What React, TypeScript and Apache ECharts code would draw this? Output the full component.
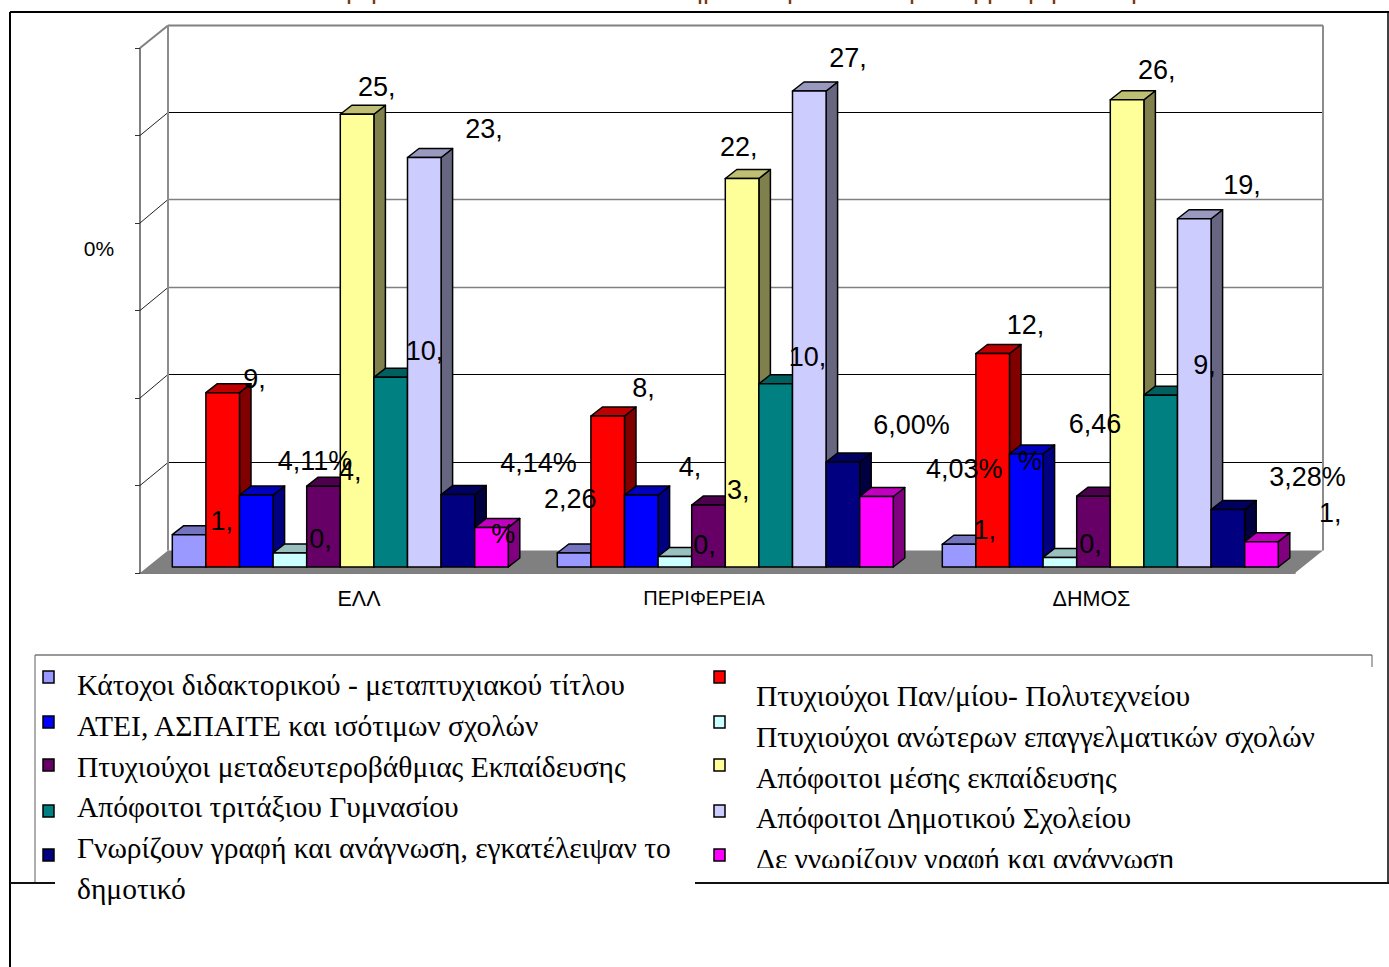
import React, { useEffect, useRef } from "react";
import * as echarts from "echarts";

const categories = ["ΕΛΛ", "ΠΕΡΙΦΕΡΕΙΑ", "ΔΗΜΟΣ"];
const yTicks = [0, 5, 10, 15, 20, 25, 30];

const seriesNames = [
  "Κάτοχοι διδακτορικού - μεταπτυχιακού τίτλου",
  "Πτυχιούχοι Παν/μίου- Πολυτεχνείου",
  "ΑΤΕΙ, ΑΣΠΑΙΤΕ και ισότιμων σχολών",
  "Πτυχιούχοι ανώτερων επαγγελματικών σχολών",
  "Πτυχιούχοι μεταδευτεροβάθμιας Εκπαίδευσης",
  "Απόφοιτοι μέσης εκπαίδευσης",
  "Απόφοιτοι τριτάξιου Γυμνασίου",
  "Απόφοιτοι Δημοτικού Σχολείου",
  "Γνωρίζουν γραφή και ανάγνωση, εγκατέλειψαν το",
  "Δε γνωρίζουν γραφή και ανάγνωση",
];

const kat = [1.85, 0.8, 1.3];
const pan = [9.96, 8.63, 12.2];
const atei = [4.11, 4.11, 6.46];
const anot = [0.8, 0.6, 0.55];
const metad = [4.62, 3.54, 4.05];
const mesi = [25.87, 22.2, 26.7];
const trit = [10.84, 10.47, 9.82];
const dimot = [23.4, 27.2, 19.9];
const graf = [4.14, 6.0, 3.28];
const agraf = [2.26, 4.03, 1.45];
const seriesValues = [kat, pan, atei, anot, metad, mesi, trit, dimot, graf, agraf];

const labelsEll = ["1,", "9,", "4,11%", "0,", "4,", "25,", "10,", "23,", "4,14%", "2,26"];
const labelsPer = ["", "8,", "4,", "0,", "3,", "22,", "10,", "27,", "6,00%", "4,03%"];
const labelsDim = ["1,", "12,", "6,46", "0,", "", "26,", "9,", "19,", "3,28%", "1,"];
const labelTexts = [labelsEll, labelsPer, labelsDim];

// ---- layout and style, kept apart from the values ----
const colors = ["#9999FF", "#FF0000", "#0000FF", "#CCFFFF", "#660066", "#FFFF99", "#008080", "#CCCCFF", "#000080", "#FF00FF"];
const labelOffsets = [
  [[32, -14], [31, -14], [58, -34], [30, -14], [26, -15], [19, -27], [33, -26], [59, -29], [80, -32], [78, -28]],
  [[0, 0], [35, -28], [48, -28], [29, -12], [29, -15], [-4, -32], [31, -27], [38, -33], [68, -37], [87, -27]],
  [[25, -14], [32, -29], [68, -30], [30, -13], [0, 0], [29, -30], [43, -30], [47, -34], [79, -33], [68, -29]],
];
const extraLabels = [
  { cat: 0, s: 9, text: "%", dx: 11, dy: 7 },
  { cat: 2, s: 2, text: "%", dx: 3, dy: 7 },
];
const gridLineColors = ["#808080", "#000000", "#000000", "#808080", "#808080", "#000000", "#808080"];
const BAR_RATIO = 33.6 / 385;
const BAR_SHIFT = -0.7;
const DEPTH_X = 11.5;
const DEPTH_Y = 9;
const BACK_DX = 19.5;
const BACK_DY = -16.5;
const FRONT_DX = -8.5;
const FRONT_DY = 6;
const SANS = '"Liberation Sans", Arial, sans-serif';
const SERIF = '"Liberation Serif", "Times New Roman", serif';
const LEG_FONT = 29.5;

function shade(hex: string, f: number) {
  const n = parseInt(hex.slice(1), 16);
  const c = [(n >> 16) & 255, (n >> 8) & 255, n & 255].map((v) => Math.round(v * f));
  return `rgb(${c[0]},${c[1]},${c[2]})`;
}

function barRenderer(s: number) {
  return (_: any, api: any) => {
    const cat = api.value(0);
    const top = api.coord([cat, api.value(1)]);
    const base = api.coord([cat, 0]);
    const band = api.size([1, 0])[0];
    const w = band * BAR_RATIO;
    const x0 = top[0] + BAR_SHIFT + (s - 5) * w;
    const x1 = x0 + w;
    const yt = top[1];
    const yb = base[1];
    const line = { stroke: "#000", lineWidth: 1.5, lineJoin: "round" };
    return {
      type: "group",
      children: [
        { type: "polygon", shape: { points: [[x1, yb], [x1 + DEPTH_X, yb - DEPTH_Y], [x1 + DEPTH_X, yt - DEPTH_Y], [x1, yt]] }, style: { fill: shade(colors[s], 0.5), ...line } },
        { type: "polygon", shape: { points: [[x0, yt], [x1, yt], [x1 + DEPTH_X, yt - DEPTH_Y], [x0 + DEPTH_X, yt - DEPTH_Y]] }, style: { fill: shade(colors[s], 0.75), ...line } },
        { type: "rect", shape: { x: x0, y: yt, width: w, height: yb - yt }, style: { fill: colors[s], ...line } },
      ],
    };
  };
}

const labelRows: { cat: number; s: number; text: string; dx: number; dy: number }[] = [];
labelTexts.forEach((row, cat) =>
  row.forEach((text, s) => {
    if (text) labelRows.push({ cat, s, text, dx: labelOffsets[cat][s][0], dy: labelOffsets[cat][s][1] });
  })
);
extraLabels.forEach((e) => labelRows.push(e));

function frameRenderer(params: any, api: any) {
  const v = api.value(0);
  const idx = params.dataIndex;
  const cs = params.coordSys;
  const y = api.coord([0, v])[1];
  const left = cs.x;
  const right = cs.x + cs.width;
  const children: any[] = [];
  const col = gridLineColors[idx];
  const top = idx === yTicks.length - 1;
  const lw = top ? 2 : col === "#000000" ? 1 : 1.5;
  // interior wall lines sit on whole pixel rows so that they stay crisp
  const backY = top ? y + BACK_DY : Math.floor(y + BACK_DY - 1) + 0.5;
  if (idx === 0) {
    children.push({
      type: "polygon",
      shape: {
        points: [
          [left + FRONT_DX, y + FRONT_DY],
          [right + FRONT_DX, y + FRONT_DY],
          [right + BACK_DX, y + BACK_DY],
          [left + BACK_DX, y + BACK_DY],
        ],
      },
      style: { fill: "#808080" },
    });
  } else {
    children.push({
      type: "line",
      shape: { x1: left + BACK_DX, y1: backY, x2: right + BACK_DX, y2: backY },
      style: { stroke: col, lineWidth: lw },
    });
    children.push({
      type: "line",
      shape: { x1: left + FRONT_DX, y1: y + FRONT_DY, x2: left + BACK_DX, y2: backY },
      style: { stroke: top ? "#808080" : "#222", lineWidth: top ? 2 : 1 },
    });
  }
  if (top) {
    const yBottom = api.coord([0, 0])[1] + BACK_DY;
    [left + BACK_DX, right + BACK_DX].forEach((x) =>
      children.push({
        type: "line",
        shape: { x1: x, y1: y + BACK_DY, x2: x, y2: yBottom },
        style: { stroke: "#8c8c8c", lineWidth: 2 },
      })
    );
  }
  return { type: "group", children };
}

function labelRenderer(params: any, api: any) {
  const r = labelRows[params.dataIndex];
  const top = api.coord([r.cat, seriesValues[r.s][r.cat]]);
  const band = api.size([1, 0])[0];
  const cx = top[0] + (r.s - 4.5) * band * BAR_RATIO;
  return {
    type: "text",
    style: {
      text: r.text,
      x: cx + r.dx,
      y: top[1] + r.dy,
      fill: "#000",
      fontSize: 27,
      fontFamily: SANS,
      align: "center",
      verticalAlign: "middle",
    },
  };
}

const legendLeftIdx = [0, 2, 4, 6, 8];
const legendRightIdx = [1, 3, 5, 7, 9];
const swatchYs = [671, 716, 759, 805, 849];
const leftTextYs = [685, 726, 767, 807, 848];
const rightTextYs = [696, 737, 778, 818, 859];
const titleMarks = [349, 374, 700, 706, 790, 912, 976, 990, 1031, 1054, 1134];

function buildGraphic() {
  const els: any[] = [];
  const line = (x1: number, y1: number, x2: number, y2: number, stroke: string, lineWidth: number, z = 1) => ({
    type: "line",
    shape: { x1, y1, x2, y2 },
    style: { stroke, lineWidth },
    z,
  });
  // clipped title: only the descenders stay on the page
  titleMarks.forEach((x) => els.push(line(x, 0, x, 4, "#7a3d14", 2.5)));
  // page frame
  els.push(line(10, 12, 1389, 12, "#000", 2.2));
  els.push(line(10, 12, 10, 967, "#000", 2));
  els.push(line(1388, 12, 1388, 883, "#000", 1.5));
  // legend box
  els.push(line(35, 655, 1372, 655, "#777", 1.5));
  els.push(line(35, 655, 35, 883, "#777", 1.2));
  els.push(line(1372, 655, 1372, 667, "#777", 1.2));
  const addRow = (s: number, sx: number, sy: number, tx: number, ty: number, text: string) => {
    els.push({
      type: "rect",
      shape: { x: sx, y: sy, width: 11, height: 12 },
      style: { fill: colors[s], stroke: "#000", lineWidth: 1.5 },
      z: 3,
    });
    els.push({
      type: "text",
      x: tx,
      y: ty,
      style: { text, fill: "#000", fontSize: LEG_FONT, fontFamily: SERIF, align: "left", verticalAlign: "middle" },
      z: 3,
    });
  };
  legendLeftIdx.forEach((s, i) => addRow(s, 43, swatchYs[i], 77, leftTextYs[i], seriesNames[s]));
  legendRightIdx.forEach((s, i) => addRow(s, 714, swatchYs[i], 756, rightTextYs[i], seriesNames[s]));
  els.push({
    type: "text",
    x: 77,
    y: 889,
    style: { text: "δημοτικό", fill: "#000", fontSize: LEG_FONT, fontFamily: SERIF, align: "left", verticalAlign: "middle" },
    z: 3,
  });
  // the last row of the right column is cut off by the frame
  els.push({ type: "rect", shape: { x: 740, y: 868, width: 640, height: 15 }, style: { fill: "#fff" }, z: 4 });
  els.push(line(10, 883, 55, 883, "#111", 1.8, 5));
  els.push(line(695, 883, 1389, 883, "#111", 1.8, 5));
  // lone tick label of the value axis
  els.push({
    type: "text",
    x: 99,
    y: 248,
    style: { text: "0%", fill: "#000", fontSize: 21, fontFamily: SANS, align: "center", verticalAlign: "middle" },
    z: 3,
  });
  return els;
}

export default function App() {
  const ref = useRef<HTMLDivElement>(null);
  useEffect(() => {
    const chart = echarts.init(ref.current!, undefined, { renderer: "svg" });
    const option: any = {
      animation: false,
      backgroundColor: "#fff",
      graphic: { elements: buildGraphic() },
      grid: [
        { left: 148.5, width: 1155, top: 42, height: 525 },
        { left: 140, width: 1155, top: 48, height: 525 },
      ],
      xAxis: [
        { type: "category", gridIndex: 0, data: categories, show: false },
        {
          type: "category",
          gridIndex: 1,
          data: categories,
          axisLine: { lineStyle: { color: "#555", width: 1.5 } },
          axisTick: { length: 7, lineStyle: { color: "#333", width: 1.2 } },
          axisLabel: {
            margin: 15,
            formatter: (v: string, i: number) => `{c${i}|${v}}`,
            rich: {
              c0: { fontSize: 21.5, fontFamily: SANS, color: "#000", padding: [0, 0, 0, 53] },
              c1: { fontSize: 20, fontFamily: SANS, color: "#000", padding: [0, 27, 0, 0] },
              c2: { fontSize: 21.5, fontFamily: SANS, color: "#000", padding: [0, 22, 0, 0] },
            },
          },
        },
      ],
      yAxis: [
        { type: "value", gridIndex: 0, min: 0, max: 30, interval: 5, show: false },
        {
          type: "value",
          gridIndex: 1,
          min: 0,
          max: 30,
          interval: 5,
          axisLine: { show: true, lineStyle: { color: "#555", width: 1.5 } },
          axisTick: { show: true, length: 5, lineStyle: { color: "#333", width: 1 } },
          axisLabel: { show: false },
          splitLine: { show: false },
        },
      ],
      series: [
        {
          type: "custom",
          name: "frame",
          xAxisIndex: 0,
          yAxisIndex: 0,
          z: 1,
          silent: true,
          clip: false,
          renderItem: frameRenderer,
          encode: { y: 0 },
          data: yTicks.map((v) => [v]),
        },
        ...seriesNames.map((name, s) => ({
          type: "custom",
          name,
          xAxisIndex: 0,
          yAxisIndex: 0,
          z: 2,
          clip: false,
          renderItem: barRenderer(s),
          encode: { x: 0, y: 1 },
          data: seriesValues[s].map((v, i) => [i, v]),
        })),
        {
          type: "custom",
          name: "labels",
          xAxisIndex: 0,
          yAxisIndex: 0,
          z: 3,
          silent: true,
          clip: false,
          renderItem: labelRenderer,
          encode: { x: 0, y: 1 },
          data: labelRows.map((r) => [r.cat, seriesValues[r.s][r.cat]]),
        },
      ],
    };
    chart.setOption(option);
    return () => chart.dispose();
  }, []);
  return <div ref={ref} style={{ position: "absolute", left: 0, top: 0, width: 1389, height: 967 }} />;
}
